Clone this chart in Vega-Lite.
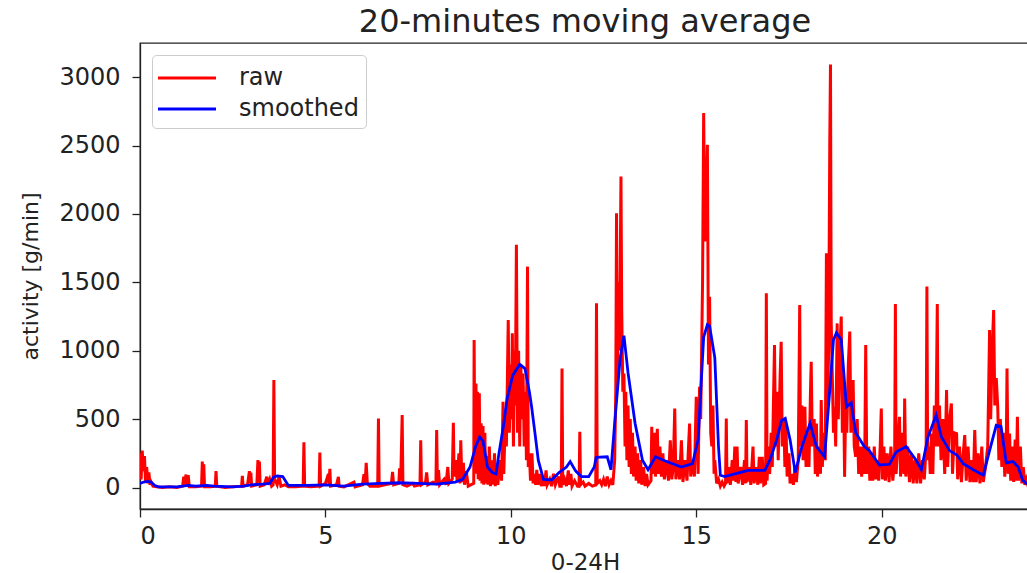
{
  "$schema": "https://vega.github.io/schema/vega-lite/v6.json",
  "autosize": {"type": "none"},
  "padding": {"left": 140, "top": 43, "right": 0, "bottom": 64},
  "width": 890,
  "height": 466,
  "background": "white",
  "title": {"text": "20-minutes moving average", "fontSize": 32, "font": "DejaVu Sans", "fontWeight": "normal", "color": "#222222", "offset": 4, "anchor": "middle"},
  "config": {
    "view": {"stroke": "#222222", "strokeWidth": 1.3},
    "axis": {"grid": false, "domainColor": "#222222", "domainWidth": 1.3, "tickColor": "#222222", "tickWidth": 1.3, "tickSize": 8, "labelColor": "#222222", "labelFont": "DejaVu Sans", "labelFontSize": 24, "titleFont": "DejaVu Sans", "titleFontWeight": "normal", "titleColor": "#222222"},
    "legend": {"orient": "top-left", "offset": 12, "strokeColor": "#cccccc", "fillColor": "white", "padding": 7, "cornerRadius": 4, "symbolType": "M-2,0H2", "symbolStrokeWidth": 3, "symbolSize": 841, "symbolOffset": 12, "labelFont": "DejaVu Sans", "labelFontSize": 24, "labelColor": "#222222", "labelOffset": 36, "rowPadding": 3, "title": null}
  },
  "datasets": {
    "raw": [
      {"t":0.00,"v":250},{"t":0.03,"v":60},{"t":0.06,"v":270},{"t":0.09,"v":120},{"t":0.12,"v":230},{"t":0.15,"v":40},{"t":0.18,"v":150},{"t":0.21,"v":30},{"t":0.24,"v":110},{"t":0.27,"v":20},{"t":0.30,"v":40},{"t":0.35,"v":10},{"t":0.45,"v":5},{"t":0.6,"v":0},{"t":0.8,"v":5},{"t":1.0,"v":0},
      {"t":1.15,"v":10},{"t":1.18,"v":80},{"t":1.21,"v":20},{"t":1.24,"v":95},{"t":1.27,"v":10},{"t":1.30,"v":90},{"t":1.33,"v":5},{"t":1.5,"v":5},
      {"t":1.66,"v":10},{"t":1.68,"v":190},{"t":1.70,"v":20},{"t":1.72,"v":170},{"t":1.74,"v":5},{"t":1.9,"v":5},
      {"t":2.03,"v":10},{"t":2.05,"v":120},{"t":2.07,"v":10},{"t":2.3,"v":0},{"t":2.5,"v":5},
      {"t":2.74,"v":10},{"t":2.76,"v":85},{"t":2.78,"v":10},{"t":2.9,"v":20},{"t":2.95,"v":120},{"t":2.97,"v":30},{"t":2.99,"v":110},{"t":3.01,"v":10},
      {"t":3.15,"v":20},{"t":3.18,"v":200},{"t":3.20,"v":40},{"t":3.22,"v":190},{"t":3.24,"v":10},{"t":3.35,"v":20},{"t":3.42,"v":80},{"t":3.45,"v":20},{"t":3.5,"v":60},{"t":3.55,"v":10},
      {"t":3.59,"v":20},{"t":3.61,"v":786},{"t":3.63,"v":40},{"t":3.65,"v":50},{"t":3.7,"v":20},{"t":3.75,"v":80},{"t":3.8,"v":10},{"t":3.9,"v":20},{"t":4.0,"v":5},
      {"t":4.2,"v":5},{"t":4.40,"v":10},{"t":4.42,"v":330},{"t":4.44,"v":10},{"t":4.6,"v":5},
      {"t":4.83,"v":10},{"t":4.85,"v":255},{"t":4.87,"v":10},{"t":5.0,"v":30},{"t":5.08,"v":100},{"t":5.10,"v":20},{"t":5.12,"v":137},{"t":5.14,"v":10},{"t":5.3,"v":20},{"t":5.35,"v":78},{"t":5.37,"v":10},{"t":5.5,"v":5},{"t":5.77,"v":40},{"t":5.8,"v":5},
      {"t":6.0,"v":20},{"t":6.04,"v":98},{"t":6.07,"v":20},{"t":6.10,"v":180},{"t":6.13,"v":30},{"t":6.2,"v":10},
      {"t":6.41,"v":10},{"t":6.43,"v":505},{"t":6.45,"v":10},{"t":6.6,"v":20},{"t":6.78,"v":30},{"t":6.81,"v":115},{"t":6.84,"v":20},
      {"t":6.98,"v":30},{"t":7.0,"v":140},{"t":7.03,"v":50},{"t":7.07,"v":530},{"t":7.09,"v":20},{"t":7.2,"v":10},{"t":7.35,"v":30},{"t":7.4,"v":10},
      {"t":7.55,"v":20},{"t":7.57,"v":346},{"t":7.59,"v":20},{"t":7.7,"v":40},{"t":7.73,"v":110},{"t":7.76,"v":20},{"t":7.9,"v":40},{"t":7.98,"v":30},{"t":8.0,"v":420},{"t":8.02,"v":30},{"t":8.05,"v":127},{"t":8.08,"v":20},{"t":8.2,"v":60},{"t":8.25,"v":20},{"t":8.3,"v":150},{"t":8.33,"v":30},
      {"t":8.42,"v":60},{"t":8.45,"v":473},{"t":8.47,"v":80},{"t":8.52,"v":200},{"t":8.55,"v":50},{"t":8.6,"v":250},{"t":8.63,"v":30},{"t":8.65,"v":346},{"t":8.68,"v":40},{"t":8.72,"v":180},{"t":8.75,"v":20},{"t":8.8,"v":120},{"t":8.85,"v":10},
      {"t":9.0,"v":30},{"t":9.01,"v":1079},{"t":9.03,"v":200},{"t":9.06,"v":760},{"t":9.08,"v":100},{"t":9.10,"v":700},{"t":9.12,"v":60},{"t":9.15,"v":690},{"t":9.17,"v":50},{"t":9.20,"v":470},{"t":9.22,"v":30},{"t":9.25,"v":450},{"t":9.27,"v":20},{"t":9.30,"v":400},{"t":9.32,"v":30},{"t":9.35,"v":230},{"t":9.38,"v":20},{"t":9.42,"v":300},{"t":9.45,"v":10},{"t":9.50,"v":200},{"t":9.52,"v":20},{"t":9.56,"v":250},{"t":9.58,"v":10},{"t":9.62,"v":150},{"t":9.65,"v":20},{"t":9.70,"v":200},
      {"t":9.75,"v":50},{"t":9.79,"v":627},{"t":9.81,"v":100},{"t":9.85,"v":500},{"t":9.88,"v":300},{"t":9.93,"v":1225},{"t":9.96,"v":400},{"t":10.0,"v":900},{"t":10.02,"v":500},{"t":10.04,"v":1127},{"t":10.07,"v":300},{"t":10.10,"v":1000},{"t":10.12,"v":600},{"t":10.15,"v":1774},{"t":10.18,"v":400},{"t":10.21,"v":1000},{"t":10.24,"v":300},{"t":10.27,"v":900},{"t":10.30,"v":500},{"t":10.33,"v":834},{"t":10.36,"v":300},{"t":10.40,"v":700},{"t":10.42,"v":200},{"t":10.45,"v":1615},{"t":10.47,"v":150},{"t":10.50,"v":250},{"t":10.53,"v":50},{"t":10.57,"v":250},{"t":10.60,"v":30},{"t":10.63,"v":100},{"t":10.67,"v":20},{"t":10.70,"v":130},{"t":10.73,"v":20},{"t":10.78,"v":100},{"t":10.82,"v":10},{"t":10.87,"v":80},{"t":10.90,"v":10},{"t":10.95,"v":125},{"t":10.98,"v":20},{"t":11.05,"v":60},{"t":11.10,"v":10},{"t":11.15,"v":100},{"t":11.20,"v":20},{"t":11.28,"v":80},{"t":11.32,"v":10},
      {"t":11.36,"v":10},{"t":11.38,"v":871},{"t":11.40,"v":20},{"t":11.45,"v":60},{"t":11.50,"v":10},{"t":11.55,"v":125},{"t":11.58,"v":20},{"t":11.62,"v":100},{"t":11.65,"v":10},{"t":11.72,"v":50},{"t":11.80,"v":10},{"t":11.84,"v":10},{"t":11.86,"v":407},{"t":11.88,"v":20},{"t":11.95,"v":40},{"t":12.0,"v":10},{"t":12.1,"v":30},{"t":12.2,"v":10},
      {"t":12.29,"v":20},{"t":12.31,"v":1347},{"t":12.33,"v":30},{"t":12.40,"v":50},{"t":12.45,"v":20},{"t":12.50,"v":60},{"t":12.55,"v":10},{"t":12.60,"v":80},{"t":12.65,"v":20},{"t":12.70,"v":50},{"t":12.75,"v":20},{"t":12.80,"v":200},
      {"t":12.83,"v":700},{"t":12.85,"v":2006},{"t":12.87,"v":800},{"t":12.90,"v":1500},{"t":12.93,"v":1000},{"t":12.97,"v":2274},{"t":12.99,"v":1300},{"t":13.02,"v":700},{"t":13.05,"v":834},{"t":13.08,"v":300},{"t":13.10,"v":700},{"t":13.13,"v":200},{"t":13.16,"v":600},{"t":13.19,"v":150},{"t":13.22,"v":500},{"t":13.25,"v":100},{"t":13.28,"v":400},{"t":13.31,"v":80},{"t":13.35,"v":300},{"t":13.38,"v":50},{"t":13.42,"v":250},{"t":13.45,"v":30},{"t":13.50,"v":200},{"t":13.53,"v":20},{"t":13.58,"v":150},{"t":13.62,"v":10},{"t":13.66,"v":100},{"t":13.70,"v":20},
      {"t":13.78,"v":50},{"t":13.80,"v":444},{"t":13.83,"v":100},{"t":13.87,"v":400},{"t":13.90,"v":80},{"t":13.95,"v":430},{"t":13.98,"v":100},{"t":14.02,"v":300},{"t":14.06,"v":80},{"t":14.10,"v":250},{"t":14.14,"v":60},{"t":14.20,"v":200},{"t":14.25,"v":50},{"t":14.30,"v":346},{"t":14.34,"v":60},{"t":14.38,"v":150},{"t":14.42,"v":578},{"t":14.45,"v":60},{"t":14.50,"v":200},{"t":14.55,"v":60},{"t":14.60,"v":346},{"t":14.64,"v":40},{"t":14.70,"v":200},{"t":14.75,"v":50},{"t":14.82,"v":468},{"t":14.85,"v":80},{"t":14.90,"v":200},{"t":14.95,"v":80},{"t":15.0,"v":664},{"t":15.05,"v":100},{"t":15.09,"v":737},{"t":15.12,"v":500},
      {"t":15.17,"v":1500},{"t":15.20,"v":2738},{"t":15.23,"v":1800},{"t":15.26,"v":2000},{"t":15.30,"v":2506},{"t":15.33,"v":900},{"t":15.36,"v":1395},{"t":15.39,"v":400},{"t":15.42,"v":300},{"t":15.45,"v":600},{"t":15.48,"v":100},{"t":15.50,"v":200},{"t":15.55,"v":30},{"t":15.60,"v":60},{"t":15.65,"v":10},{"t":15.70,"v":40},{"t":15.75,"v":10},
      {"t":15.79,"v":30},{"t":15.81,"v":505},{"t":15.83,"v":30},{"t":15.88,"v":150},{"t":15.92,"v":20},{"t":15.97,"v":200},{"t":16.0,"v":50},{"t":16.04,"v":300},{"t":16.07,"v":40},{"t":16.10,"v":300},{"t":16.13,"v":30},{"t":16.20,"v":150},{"t":16.25,"v":20},{"t":16.30,"v":200},{"t":16.33,"v":30},{"t":16.35,"v":493},{"t":16.37,"v":40},{"t":16.43,"v":150},{"t":16.47,"v":20},{"t":16.53,"v":300},{"t":16.56,"v":30},{"t":16.62,"v":150},{"t":16.66,"v":20},{"t":16.70,"v":225},{"t":16.73,"v":30},{"t":16.78,"v":225},{"t":16.82,"v":20},
      {"t":16.87,"v":30},{"t":16.89,"v":1420},{"t":16.91,"v":50},{"t":16.95,"v":300},{"t":16.98,"v":100},{"t":17.02,"v":400},{"t":17.05,"v":150},{"t":17.08,"v":600},{"t":17.11,"v":1042},{"t":17.14,"v":300},{"t":17.18,"v":700},{"t":17.21,"v":200},{"t":17.26,"v":800},{"t":17.29,"v":1066},{"t":17.32,"v":300},{"t":17.36,"v":500},{"t":17.39,"v":150},{"t":17.42,"v":468},{"t":17.45,"v":80},{"t":17.50,"v":250},{"t":17.53,"v":30},{"t":17.58,"v":100},{"t":17.62,"v":20},{"t":17.66,"v":150},{"t":17.70,"v":40},
      {"t":17.75,"v":200},{"t":17.79,"v":1335},{"t":17.81,"v":300},{"t":17.85,"v":600},{"t":17.88,"v":200},{"t":17.93,"v":590},{"t":17.96,"v":150},{"t":18.0,"v":400},{"t":18.04,"v":150},{"t":18.08,"v":700},{"t":18.10,"v":920},{"t":18.13,"v":300},{"t":18.18,"v":500},{"t":18.21,"v":100},{"t":18.24,"v":468},{"t":18.27,"v":80},{"t":18.32,"v":300},{"t":18.35,"v":100},{"t":18.37,"v":640},{"t":18.40,"v":150},{"t":18.44,"v":400},{"t":18.48,"v":200},{"t":18.51,"v":1713},{"t":18.54,"v":600},{"t":18.57,"v":1000},{"t":18.60,"v":2500},{"t":18.62,"v":3092},{"t":18.64,"v":1200},{"t":18.67,"v":800},{"t":18.70,"v":400},{"t":18.73,"v":590},{"t":18.76,"v":300},{"t":18.80,"v":1200},{"t":18.83,"v":500},{"t":18.87,"v":1000},{"t":18.91,"v":1250},{"t":18.94,"v":400},{"t":18.97,"v":800},{"t":19.0,"v":78},{"t":19.03,"v":600},{"t":19.06,"v":400},{"t":19.10,"v":900},{"t":19.14,"v":1140},{"t":19.17,"v":400},{"t":19.20,"v":700},{"t":19.23,"v":786},{"t":19.26,"v":300},{"t":19.30,"v":225},{"t":19.34,"v":500},{"t":19.38,"v":100},{"t":19.42,"v":300},{"t":19.46,"v":80},{"t":19.50,"v":300},
      {"t":19.54,"v":100},{"t":19.57,"v":1042},{"t":19.60,"v":100},{"t":19.65,"v":300},{"t":19.68,"v":50},{"t":19.72,"v":250},{"t":19.76,"v":50},{"t":19.80,"v":300},{"t":19.84,"v":60},{"t":19.88,"v":200},{"t":19.92,"v":50},{"t":19.96,"v":300},{"t":19.99,"v":578},{"t":20.02,"v":60},{"t":20.06,"v":300},{"t":20.10,"v":50},{"t":20.15,"v":250},{"t":20.20,"v":40},{"t":20.25,"v":300},{"t":20.30,"v":50},
      {"t":20.35,"v":200},{"t":20.37,"v":1342},{"t":20.39,"v":100},{"t":20.43,"v":300},{"t":20.48,"v":517},{"t":20.51,"v":80},{"t":20.56,"v":400},{"t":20.60,"v":100},{"t":20.62,"v":651},{"t":20.65,"v":80},{"t":20.70,"v":300},{"t":20.75,"v":40},{"t":20.80,"v":250},{"t":20.85,"v":30},{"t":20.90,"v":200},{"t":20.95,"v":30},{"t":21.0,"v":250},{"t":21.05,"v":30},{"t":21.10,"v":200},{"t":21.15,"v":60},
      {"t":21.20,"v":300},{"t":21.22,"v":1469},{"t":21.24,"v":200},{"t":21.28,"v":300},{"t":21.31,"v":100},{"t":21.34,"v":395},{"t":21.38,"v":100},{"t":21.42,"v":600},{"t":21.46,"v":300},{"t":21.50,"v":1342},{"t":21.52,"v":300},{"t":21.56,"v":600},{"t":21.60,"v":200},{"t":21.65,"v":500},{"t":21.70,"v":100},{"t":21.75,"v":712},{"t":21.78,"v":150},{"t":21.83,"v":500},{"t":21.88,"v":615},{"t":21.91,"v":100},{"t":21.96,"v":400},{"t":22.02,"v":395},{"t":22.05,"v":60},{"t":22.10,"v":300},{"t":22.15,"v":40},{"t":22.20,"v":250},{"t":22.24,"v":383},{"t":22.28,"v":50},{"t":22.33,"v":300},{"t":22.38,"v":40},{"t":22.43,"v":200},{"t":22.47,"v":40},{"t":22.51,"v":420},{"t":22.55,"v":40},{"t":22.60,"v":250},{"t":22.65,"v":30},{"t":22.70,"v":300},{"t":22.74,"v":40},{"t":22.80,"v":150},
      {"t":22.86,"v":300},{"t":22.89,"v":800},{"t":22.91,"v":1152},{"t":22.94,"v":500},{"t":22.98,"v":1000},{"t":23.02,"v":1298},{"t":23.05,"v":600},{"t":23.09,"v":800},{"t":23.13,"v":590},{"t":23.16,"v":200},{"t":23.20,"v":500},{"t":23.24,"v":150},{"t":23.28,"v":400},{"t":23.32,"v":80},{"t":23.36,"v":300},{"t":23.38,"v":871},{"t":23.41,"v":100},{"t":23.45,"v":395},{"t":23.48,"v":50},{"t":23.52,"v":300},{"t":23.56,"v":40},{"t":23.60,"v":350},{"t":23.63,"v":50},{"t":23.66,"v":517},{"t":23.69,"v":50},{"t":23.74,"v":300},{"t":23.78,"v":30},{"t":23.82,"v":150},{"t":23.86,"v":20},{"t":23.90,"v":60},{"t":23.95,"v":10},{"t":24.0,"v":20}
    ],
    "smooth": [
      {"t":0,"v":30},{"t":0.1,"v":40},{"t":0.2,"v":45},{"t":0.3,"v":40},{"t":0.4,"v":15},{"t":0.5,"v":5},{"t":1.0,"v":5},{"t":1.3,"v":15},{"t":1.5,"v":10},{"t":1.8,"v":15},{"t":2.0,"v":10},{"t":2.5,"v":5},{"t":2.8,"v":10},{"t":3.0,"v":20},{"t":3.3,"v":25},{"t":3.5,"v":30},{"t":3.6,"v":75},{"t":3.7,"v":85},{"t":3.85,"v":80},{"t":3.92,"v":50},{"t":4.0,"v":15},{"t":4.5,"v":15},{"t":5.0,"v":20},{"t":5.5,"v":10},{"t":6.0,"v":25},{"t":6.5,"v":30},{"t":7.0,"v":35},{"t":7.5,"v":30},{"t":8.0,"v":25},{"t":8.5,"v":40},{"t":8.7,"v":60},{"t":8.9,"v":150},{"t":9.05,"v":300},{"t":9.16,"v":370},{"t":9.25,"v":340},{"t":9.37,"v":150},{"t":9.5,"v":110},{"t":9.6,"v":100},{"t":9.68,"v":250},{"t":9.8,"v":450},{"t":9.9,"v":650},{"t":10.05,"v":820},{"t":10.24,"v":900},{"t":10.38,"v":870},{"t":10.5,"v":700},{"t":10.56,"v":590},{"t":10.65,"v":400},{"t":10.74,"v":200},{"t":10.88,"v":60},{"t":11.1,"v":55},{"t":11.3,"v":110},{"t":11.5,"v":150},{"t":11.6,"v":190},{"t":11.75,"v":120},{"t":11.9,"v":80},{"t":12.1,"v":80},{"t":12.25,"v":150},{"t":12.3,"v":220},{"t":12.6,"v":225},{"t":12.7,"v":130},{"t":12.8,"v":470},{"t":12.95,"v":950},{"t":13.05,"v":1110},{"t":13.16,"v":840},{"t":13.35,"v":470},{"t":13.55,"v":200},{"t":13.7,"v":130},{"t":13.9,"v":225},{"t":14.2,"v":190},{"t":14.6,"v":150},{"t":14.9,"v":175},{"t":15.05,"v":350},{"t":15.2,"v":1100},{"t":15.3,"v":1190},{"t":15.36,"v":1180},{"t":15.5,"v":950},{"t":15.6,"v":300},{"t":15.65,"v":90},{"t":15.77,"v":80},{"t":16.04,"v":100},{"t":16.4,"v":125},{"t":16.85,"v":125},{"t":17.0,"v":210},{"t":17.17,"v":350},{"t":17.3,"v":490},{"t":17.4,"v":505},{"t":17.53,"v":350},{"t":17.67,"v":110},{"t":17.85,"v":300},{"t":18.07,"v":470},{"t":18.24,"v":300},{"t":18.46,"v":225},{"t":18.6,"v":710},{"t":18.7,"v":1080},{"t":18.78,"v":1130},{"t":18.91,"v":1080},{"t":19.05,"v":590},{"t":19.18,"v":620},{"t":19.3,"v":400},{"t":19.53,"v":300},{"t":19.67,"v":270},{"t":19.94,"v":165},{"t":20.21,"v":170},{"t":20.39,"v":260},{"t":20.66,"v":300},{"t":20.93,"v":200},{"t":21.07,"v":130},{"t":21.25,"v":370},{"t":21.47,"v":530},{"t":21.61,"v":370},{"t":21.83,"v":270},{"t":22.02,"v":240},{"t":22.2,"v":175},{"t":22.47,"v":130},{"t":22.74,"v":90},{"t":22.91,"v":270},{"t":23.09,"v":455},{"t":23.22,"v":445},{"t":23.36,"v":180},{"t":23.54,"v":190},{"t":23.68,"v":150},{"t":23.8,"v":55},{"t":23.9,"v":30},{"t":24.0,"v":25}
    ]
  },
  "encoding": {
    "x": {"field": "t", "type": "quantitative", "scale": {"domain": [0, 24], "nice": false, "zero": false}, "axis": {"values": [0, 5, 10, 15, 20], "title": "0-24H", "titleFontSize": 23, "labelPadding": 7, "titlePadding": 3}},
    "y": {"field": "v", "type": "quantitative", "scale": {"domain": [-157, 3250], "nice": false, "zero": false}, "axis": {"values": [0, 500, 1000, 1500, 2000, 2500, 3000], "format": "d", "title": "activity [g/min]", "titleFontSize": 22, "labelPadding": 12, "titlePadding": 16}}
  },
  "layer": [
    {"data": {"name": "raw"}, "mark": {"type": "line", "strokeWidth": 3, "clip": true}, "encoding": {"color": {"datum": "raw", "type": "nominal", "scale": {"domain": ["raw", "smoothed"], "range": ["#ff0000", "#0000ff"]}}}},
    {"data": {"name": "smooth"}, "mark": {"type": "line", "strokeWidth": 2.8, "clip": true}, "encoding": {"color": {"datum": "smoothed", "type": "nominal"}}}
  ]
}
